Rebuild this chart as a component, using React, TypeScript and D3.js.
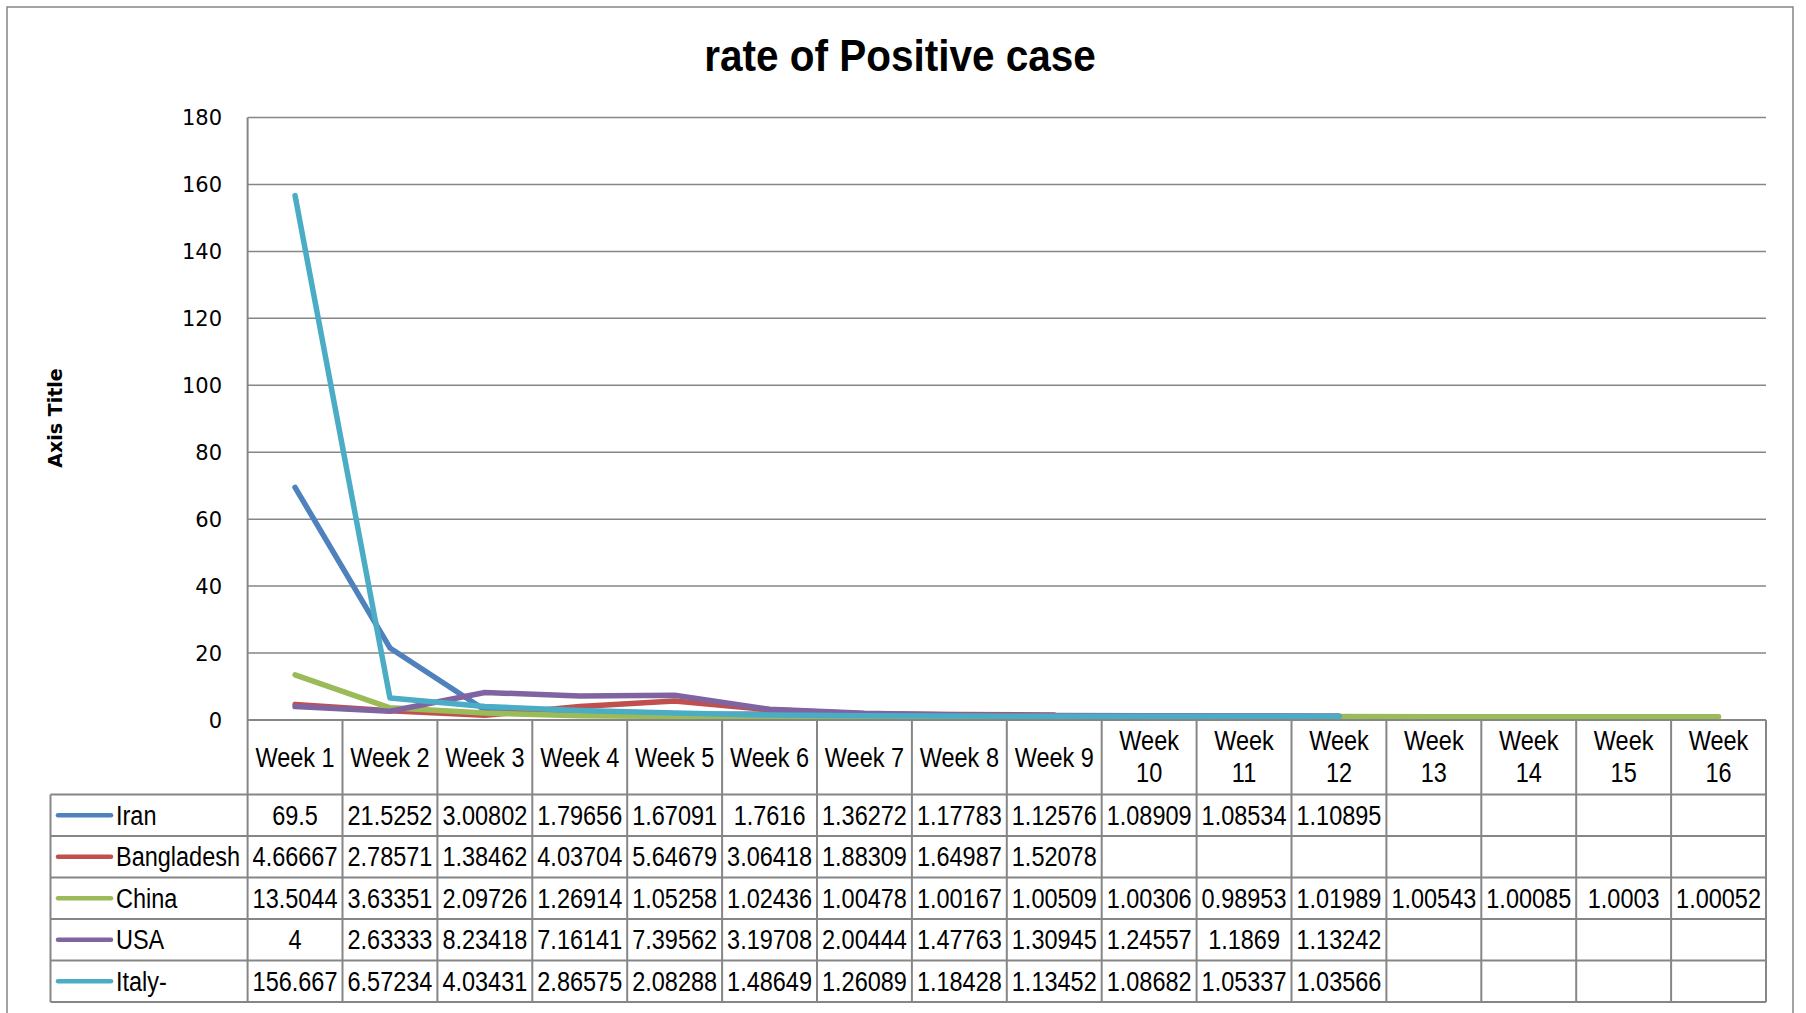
import React from 'react';
import * as d3 from 'd3';

const weeks = ['Week 1', 'Week 2', 'Week 3', 'Week 4', 'Week 5', 'Week 6', 'Week 7', 'Week 8', 'Week 9', 'Week 10', 'Week 11', 'Week 12', 'Week 13', 'Week 14', 'Week 15', 'Week 16'];

const iran = [69.5, 21.5252, 3.00802, 1.79656, 1.67091, 1.7616, 1.36272, 1.17783, 1.12576, 1.08909, 1.08534, 1.10895, null, null, null, null];
const bangladesh = [4.66667, 2.78571, 1.38462, 4.03704, 5.64679, 3.06418, 1.88309, 1.64987, 1.52078, null, null, null, null, null, null, null];
const china = [13.5044, 3.63351, 2.09726, 1.26914, 1.05258, 1.02436, 1.00478, 1.00167, 1.00509, 1.00306, 0.98953, 1.01989, 1.00543, 1.00085, 1.0003, 1.00052];
const usa = [4, 2.63333, 8.23418, 7.16141, 7.39562, 3.19708, 2.00444, 1.47763, 1.30945, 1.24557, 1.1869, 1.13242, null, null, null, null];
const italy = [156.667, 6.57234, 4.03431, 2.86575, 2.08288, 1.48649, 1.26089, 1.18428, 1.13452, 1.08682, 1.05337, 1.03566, null, null, null, null];

// table text as printed in the sheet
const iranText = ['69.5', '21.5252', '3.00802', '1.79656', '1.67091', '1.7616', '1.36272', '1.17783', '1.12576', '1.08909', '1.08534', '1.10895', '', '', '', ''];
const bangladeshText = ['4.66667', '2.78571', '1.38462', '4.03704', '5.64679', '3.06418', '1.88309', '1.64987', '1.52078', '', '', '', '', '', '', ''];
const chinaText = ['13.5044', '3.63351', '2.09726', '1.26914', '1.05258', '1.02436', '1.00478', '1.00167', '1.00509', '1.00306', '0.98953', '1.01989', '1.00543', '1.00085', '1.0003', '1.00052'];
const usaText = ['4', '2.63333', '8.23418', '7.16141', '7.39562', '3.19708', '2.00444', '1.47763', '1.30945', '1.24557', '1.1869', '1.13242', '', '', '', ''];
const italyText = ['156.667', '6.57234', '4.03431', '2.86575', '2.08288', '1.48649', '1.26089', '1.18428', '1.13452', '1.08682', '1.05337', '1.03566', '', '', '', ''];

const yTicks = [0, 20, 40, 60, 80, 100, 120, 140, 160, 180];

const series = [
  { name: 'Iran', color: '#4F81BD', values: iran, text: iranText },
  { name: 'Bangladesh', color: '#C0504D', values: bangladesh, text: bangladeshText },
  { name: 'China', color: '#9BBB59', values: china, text: chinaText },
  { name: 'USA', color: '#8064A2', values: usa, text: usaText },
  { name: 'Italy-', color: '#4BACC6', values: italy, text: italyText },
];

const W = 1806;
const H = 1013;
const plotLeft = 247.6;
const plotRight = 1766;
const plotTop = 117.5;
const plotBottom = 720;
const legendLeft = 50.5;
const headerBottom = 794.5;
const rowH = 41.5;

const sans = '"Liberation Sans", Arial, sans-serif';
const grid = '#868686';

// no condensed font installed: squeeze Liberation Sans horizontally (Calibri-like width)
function Narrow({ x, y, anchor = 'middle', size = 27, sx = 0.87, weight = 'normal', children }: any) {
  return (
    <text
      transform={`translate(${x},${y}) scale(${sx},1)`}
      textAnchor={anchor}
      fontFamily={sans}
      fontSize={size}
      fontWeight={weight}
      fill="#000"
    >
      {children}
    </text>
  );
}

export default function App() {
  const x = d3.scaleBand<string>().domain(weeks).range([plotLeft, plotRight]);
  const y = d3.scaleLinear().domain([0, 180]).range([plotBottom, plotTop]);

  const line = d3
    .line<number | null>()
    .defined((d) => d !== null)
    .x((_, i) => (x(weeks[i]) ?? 0) + x.bandwidth() / 2)
    .y((d) => y(d as number));

  const tableBottom = headerBottom + rowH * series.length;

  return (
    <svg width={W} height={H} style={{ position: 'absolute', left: 0, top: 0, background: '#fff' }}>
      <rect x={7} y={7} width={1786} height={1020} fill="#fff" stroke={grid} strokeWidth={1.5} />

      <Narrow x={900} y={71} size={45} sx={0.9} weight="bold">
        rate of Positive case
      </Narrow>

      <text
        transform={`translate(62,418) rotate(-90)`}
        textAnchor="middle"
        fontFamily="DejaVu Sans, sans-serif"
        fontWeight="bold"
        fontSize={19}
      >
        Axis Title
      </text>

      {yTicks.map((t) => (
        <g key={t}>
          {t > 0 && <line x1={plotLeft} x2={plotRight} y1={y(t)} y2={y(t)} stroke={grid} strokeWidth={1.5} />}
          <text x={222} y={y(t) + 7.5} textAnchor="end" fontFamily="DejaVu Sans, sans-serif" fontSize={21} fill="#000">
            {t}
          </text>
        </g>
      ))}
      <line x1={plotLeft} x2={plotLeft} y1={plotTop} y2={plotBottom} stroke={grid} strokeWidth={2} />

      {series.map((s) => (
        <path key={s.name} d={line(s.values) ?? ''} fill="none" stroke={s.color} strokeWidth={5.5} strokeLinejoin="round" strokeLinecap="round" />
      ))}

      {/* data table */}
      <g stroke={grid} strokeWidth={2}>
        <line x1={plotLeft} x2={plotRight} y1={plotBottom} y2={plotBottom} />
        {series.map((_, i) => (
          <line key={i} x1={legendLeft} x2={plotRight} y1={headerBottom + rowH * i} y2={headerBottom + rowH * i} />
        ))}
        <line x1={legendLeft} x2={plotRight} y1={tableBottom} y2={tableBottom} />
        <line x1={legendLeft} x2={legendLeft} y1={headerBottom} y2={tableBottom} />
        {weeks.map((w) => (
          <line key={w} x1={x(w)} x2={x(w)} y1={plotBottom} y2={tableBottom} />
        ))}
        <line x1={plotRight} x2={plotRight} y1={plotBottom} y2={tableBottom} />
      </g>

      {weeks.map((w) => {
        const cx = (x(w) ?? 0) + x.bandwidth() / 2;
        const parts = w.split(' ');
        const two = parts[1].length > 1;
        return two ? (
          <g key={w}>
            <Narrow x={cx} y={750}>{parts[0]}</Narrow>
            <Narrow x={cx} y={781.5}>{parts[1]}</Narrow>
          </g>
        ) : (
          <Narrow key={w} x={cx} y={766.5}>{w}</Narrow>
        );
      })}

      {series.map((s, i) => {
        const cy = headerBottom + rowH * i + rowH / 2;
        return (
          <g key={s.name}>
            <line x1={58} x2={111} y1={cy} y2={cy} stroke={s.color} strokeWidth={4.5} strokeLinecap="round" />
            <Narrow x={116} y={cy + 9.5} anchor="start">{s.name}</Narrow>
            {s.text.map((t, j) => (
              <Narrow key={j} x={(x(weeks[j]) ?? 0) + x.bandwidth() / 2} y={cy + 9.5}>
                {t}
              </Narrow>
            ))}
          </g>
        );
      })}
    </svg>
  );
}
